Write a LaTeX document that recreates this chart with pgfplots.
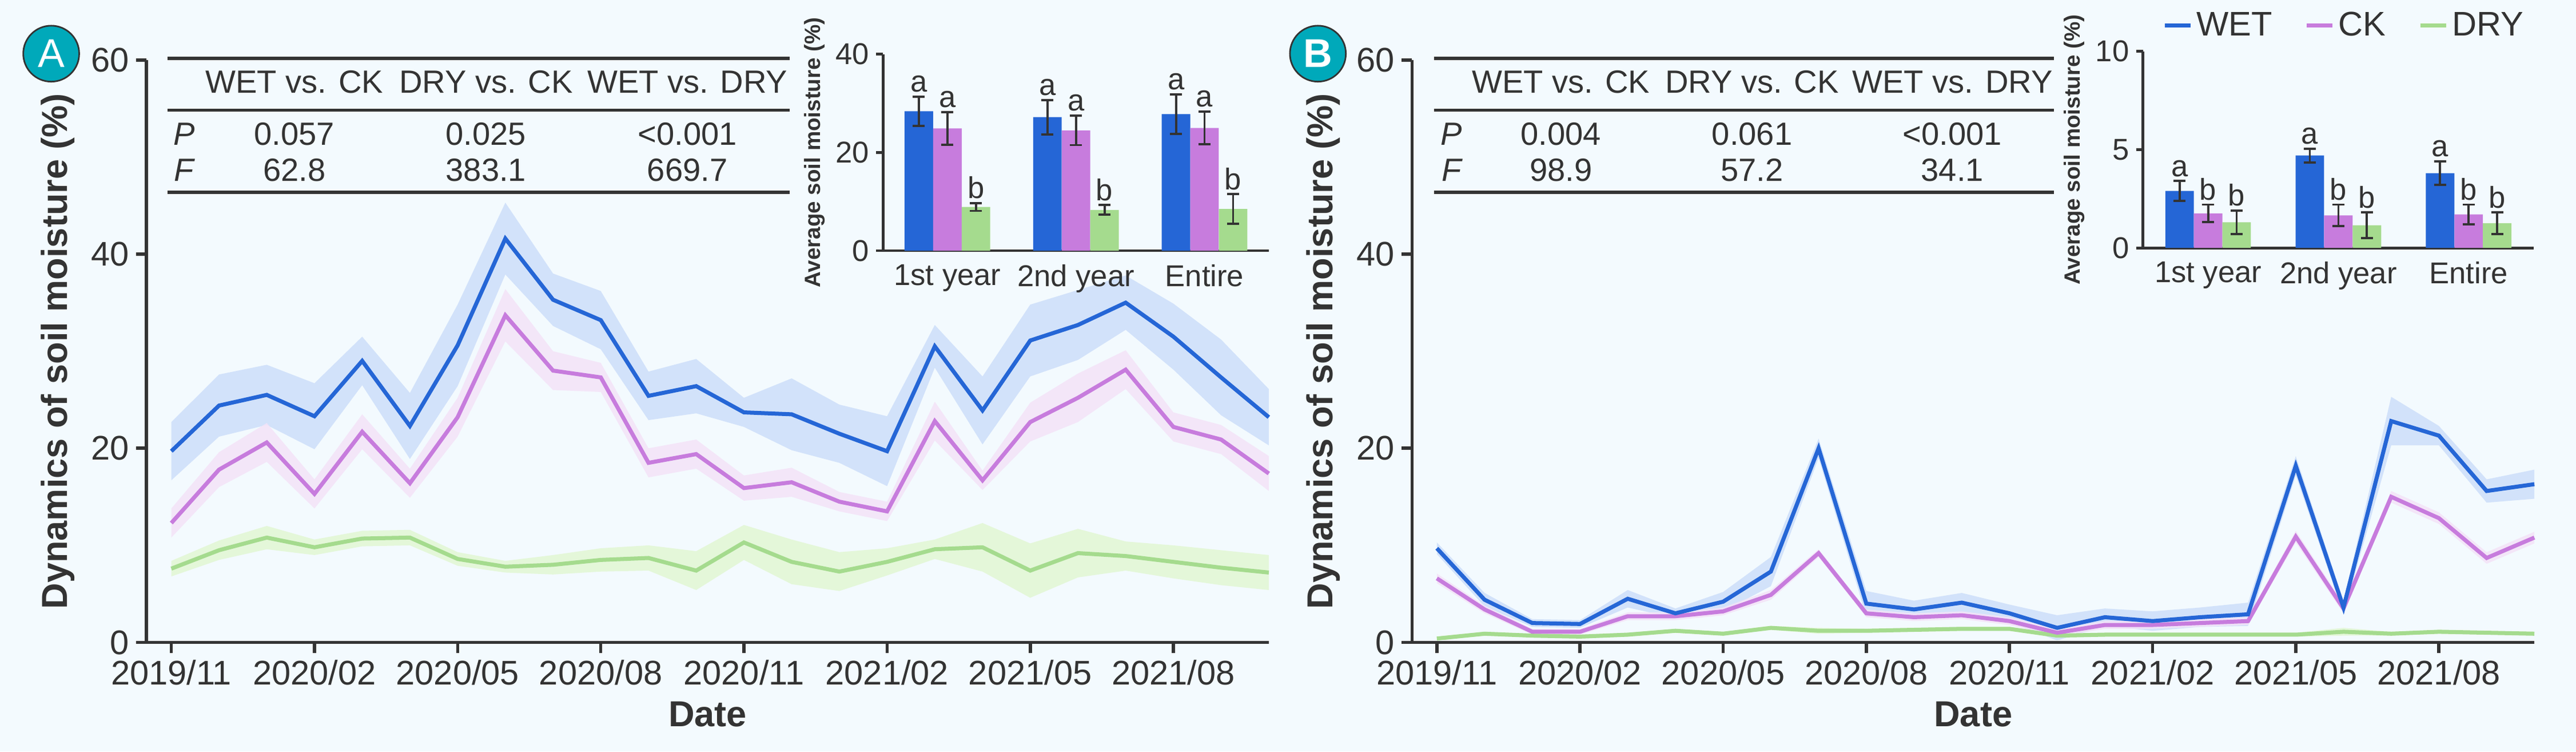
\documentclass[border=0pt]{standalone}
\usepackage{pgfplots}
\pgfplotsset{compat=1.18}
\usepgfplotslibrary{fillbetween}
\usepackage{pgfplotstable}
\usepackage{fontspec}
\setmainfont{Liberation Sans}
\definecolor{bg}{HTML}{F3FAFE}
\definecolor{cwet}{HTML}{2566D6}
\definecolor{bwet}{HTML}{D2E2FA}
\definecolor{cck}{HTML}{C77CDD}
\definecolor{bck}{HTML}{F3E3F8}
\definecolor{cdry}{HTML}{A5DB8E}
\definecolor{bdry}{HTML}{E4F7D9}
\definecolor{axc}{HTML}{333333}
\definecolor{teal}{HTML}{00A9BA}

\pgfplotstableread{
x wm we cm ce dm de
0 19.7 3.0 12.3 1.5 7.6 0.8
1 24.4 3.2 17.8 1.8 9.5 1.0
2 25.5 3.1 20.6 2.0 10.8 1.2
3 23.3 3.4 15.3 1.5 9.8 0.8
4 29.0 2.5 21.7 1.8 10.7 0.8
5 22.3 3.4 16.4 1.5 10.8 0.8
6 30.6 4.2 23.2 2.0 8.6 0.7
7 41.6 3.7 33.7 2.7 7.8 0.6
8 35.3 2.7 28.0 2.0 8.0 1.0
9 33.2 3.0 27.3 1.5 8.5 1.2
10 25.4 2.5 18.5 1.5 8.7 1.3
11 26.4 2.8 19.4 1.5 7.4 2.0
12 23.7 1.5 15.9 1.3 10.3 1.8
13 23.5 3.7 16.5 1.5 8.3 2.3
14 21.5 3.0 14.5 1.0 7.3 2.0
15 19.7 3.6 13.5 1.0 8.3 1.4
16 30.5 2.2 22.8 2.0 9.6 1.0
17 23.9 3.5 16.7 1.0 9.8 2.5
18 31.1 3.7 22.7 2.0 7.4 2.8
19 32.7 3.6 25.2 2.5 9.2 2.5
20 35.0 2.8 28.1 2.0 8.9 1.5
21 31.5 3.4 22.2 1.5 8.3 1.7
22 27.3 3.9 20.9 1.5 7.7 1.8
23 23.2 2.9 17.4 1.8 7.2 1.8
}\dataA
\pgfplotstableread{
x wm we cm ce dm de
0 9.7 0.6 6.6 0.5 0.4 0.2
1 4.4 0.7 3.4 0.4 0.9 0.2
2 2.0 0.4 1.1 0.3 0.7 0.2
3 1.9 0.4 1.1 0.3 0.6 0.2
4 4.5 0.9 2.7 0.4 0.8 0.2
5 3.0 0.5 2.7 0.4 1.2 0.2
6 4.2 1.0 3.2 0.4 0.9 0.2
7 7.3 1.5 4.9 0.5 1.5 0.2
8 20.0 1.0 9.2 0.4 1.2 0.3
9 4.0 1.3 3.0 0.4 1.2 0.2
10 3.4 0.9 2.6 0.4 1.3 0.2
11 4.1 1.0 2.8 0.4 1.4 0.2
12 3.0 0.9 2.2 0.4 1.4 0.2
13 1.5 1.3 1.0 0.4 0.7 0.2
14 2.6 0.9 1.8 0.4 0.8 0.2
15 2.2 1.0 1.8 0.4 0.8 0.2
16 2.6 1.0 2.0 0.4 0.8 0.2
17 2.9 1.2 2.2 0.4 0.8 0.2
18 18.2 1.0 10.9 0.6 0.8 0.2
19 3.6 0.7 3.5 0.5 1.1 0.4
20 22.8 2.5 15.0 0.6 0.9 0.2
21 21.3 1.0 12.8 0.6 1.1 0.2
22 15.6 1.2 8.7 0.6 1.0 0.2
23 16.3 1.5 10.8 0.6 0.9 0.2
}\dataB

\pgfplotsset{
  main/.style={
    anchor=south west, scale only axis,
    width=19.67cm, height=10.20cm,
    xmin=-0.52, xmax=23, ymin=0, ymax=60,
    axis lines=left, axis line style={-, line width=1.6pt, color=axc},
    tick style={line width=1.6pt, color=axc}, tick align=outside,
    major tick length=0.18cm,
    xtick={0,3,...,21},
    xticklabels={2019/11,2020/02,2020/05,2020/08,2020/11,2021/02,2021/05,2021/08},
    ytick={0,20,40,60},
    tick label style={font=\fontsize{17}{20}\selectfont, color=axc},
    /pgf/number format/assume math mode=true,
    xlabel={Date}, ylabel={Dynamics of soil moisture (\%)},
    label style={font=\fontsize{18}{21}\selectfont\bfseries, color=axc},
    xlabel style={yshift=-0.05cm},
    ylabel style={yshift=0.05cm},
    clip=false,
  },
  ins/.style={
    anchor=south west, scale only axis,
    height=3.44cm, xmin=-0.5, xmax=2.5, ymin=0,
    axis lines=left, axis line style={-, line width=1.4pt, color=axc},
    tick style={line width=1.4pt, color=axc}, tick align=outside,
    major tick length=0.12cm,
    xtick={0,1,2}, xticklabels={1st year,2nd year,Entire},
    x tick style={draw=none},
    extra x ticks={0.5,1.5}, extra x tick labels={},
    extra x tick style={tick style={draw=axc}},
    tick label style={font=\fontsize{15}{18}\selectfont, color=axc},
    /pgf/number format/assume math mode=true,
    ylabel={Average soil moisture (\%)},
    ylabel style={font=\fontsize{11}{13}\selectfont\bfseries, color=axc, yshift=-0.05cm},
    clip=false,
  },
  br/.style={ybar, bar width=0.5cm, bar shift=0pt, draw=none, fill=#1,
    error bars/.cd, y dir=both, y explicit, error bar style={line width=1.1pt, color=axc}, error mark options={rotate=90, mark size=3pt, line width=1.1pt, axc}},
  lab/.style={only marks, mark=none, nodes near coords, point meta=explicit symbolic,
    every node near coord/.style={anchor=south, font=\fontsize{15}{18}\selectfont, color=axc, inner sep=2pt}},
}

\begin{document}
\pagecolor{bg}
\begin{tikzpicture}[x=1cm,y=1cm]
\path (0,0) rectangle (45.05,13.16);

% ---------- Panel A ----------
\begin{axis}[main, at={(2.47cm,1.91cm)}]
\addplot[name path=wu, draw=none, forget plot] table[x=x, y expr=\thisrow{wm}+\thisrow{we}] {\dataA};
\addplot[name path=wl, draw=none, forget plot] table[x=x, y expr=\thisrow{wm}-\thisrow{we}] {\dataA};
\addplot[bwet] fill between[of=wu and wl];
\addplot[name path=cu, draw=none, forget plot] table[x=x, y expr=\thisrow{cm}+\thisrow{ce}] {\dataA};
\addplot[name path=cl, draw=none, forget plot] table[x=x, y expr=\thisrow{cm}-\thisrow{ce}] {\dataA};
\addplot[bck, opacity=0.85] fill between[of=cu and cl];
\addplot[name path=du, draw=none, forget plot] table[x=x, y expr=\thisrow{dm}+\thisrow{de}] {\dataA};
\addplot[name path=dl, draw=none, forget plot] table[x=x, y expr=\thisrow{dm}-\thisrow{de}] {\dataA};
\addplot[bdry] fill between[of=du and dl];
\addplot[cwet, line width=2pt] table[x=x, y=wm] {\dataA};
\addplot[cck, line width=2pt] table[x=x, y=cm] {\dataA};
\addplot[cdry, line width=2pt] table[x=x, y=dm] {\dataA};
\end{axis}

% ---------- Panel B ----------
\begin{axis}[main, at={(24.65cm,1.91cm)}]
\addplot[name path=wu, draw=none, forget plot] table[x=x, y expr=\thisrow{wm}+\thisrow{we}] {\dataB};
\addplot[name path=wl, draw=none, forget plot] table[x=x, y expr=\thisrow{wm}-\thisrow{we}] {\dataB};
\addplot[bwet] fill between[of=wu and wl];
\addplot[name path=cu, draw=none, forget plot] table[x=x, y expr=\thisrow{cm}+\thisrow{ce}] {\dataB};
\addplot[name path=cl, draw=none, forget plot] table[x=x, y expr=\thisrow{cm}-\thisrow{ce}] {\dataB};
\addplot[bck, opacity=0.85] fill between[of=cu and cl];
\addplot[name path=du, draw=none, forget plot] table[x=x, y expr=\thisrow{dm}+\thisrow{de}] {\dataB};
\addplot[name path=dl, draw=none, forget plot] table[x=x, y expr=\thisrow{dm}-\thisrow{de}] {\dataB};
\addplot[bdry] fill between[of=du and dl];
\addplot[cdry, line width=2pt] table[x=x, y=dm] {\dataB};
\addplot[cck, line width=2pt] table[x=x, y=cm] {\dataB};
\addplot[cwet, line width=2pt] table[x=x, y=wm] {\dataB};
\end{axis}

% ---------- Tables ----------
\begin{scope}[font=\fontsize{16}{19}\selectfont, text=axc]
\draw[axc, line width=1.6pt] (2.84,12.14) -- (13.74,12.14);
\draw[axc, line width=1.6pt] (2.84,11.23) -- (13.74,11.23);
\draw[axc, line width=1.6pt] (2.84,9.79) -- (13.74,9.79);
\node at (5.06,11.72) {WET vs. CK};
\node at (8.42,11.72) {DRY vs. CK};
\node at (11.95,11.72) {WET vs. DRY};
\node at (3.13,10.81) {\itshape P};
\node at (5.06,10.81) {0.057};
\node at (8.42,10.81) {0.025};
\node at (11.95,10.81) {<0.001};
\node at (3.13,10.18) {\itshape F};
\node at (5.06,10.18) {62.8};
\node at (8.42,10.18) {383.1};
\node at (11.95,10.18) {669.7};

\draw[axc, line width=1.6pt] (25.04,12.14) -- (35.90,12.14);
\draw[axc, line width=1.6pt] (25.04,11.23) -- (35.90,11.23);
\draw[axc, line width=1.6pt] (25.04,9.79) -- (35.90,9.79);
\node at (27.26,11.72) {WET vs. CK};
\node at (30.61,11.72) {DRY vs. CK};
\node at (34.12,11.72) {WET vs. DRY};
\node at (25.34,10.81) {\itshape P};
\node at (27.26,10.81) {0.004};
\node at (30.61,10.81) {0.061};
\node at (34.12,10.81) {<0.001};
\node at (25.34,10.18) {\itshape F};
\node at (27.26,10.18) {98.9};
\node at (30.61,10.18) {57.2};
\node at (34.12,10.18) {34.1};
\end{scope}

% ---------- Insets ----------
\begin{axis}[ins, at={(15.38cm,8.77cm)}, width=6.76cm, ymax=40, ytick={0,20,40}]
\addplot[br=cwet] coordinates {(-0.222,28.4) +- (0,3.0) (0.778,27.2) +- (0,3.5) (1.778,27.8) +- (0,4.0)};
\addplot[br=cck] coordinates {(0,24.9) +- (0,3.3) (1,24.5) +- (0,3.0) (2,25.0) +- (0,3.3)};
\addplot[br=cdry] coordinates {(0.222,8.9) +- (0,0.8) (1.222,8.3) +- (0,1.0) (2.222,8.5) +- (0,3.0)};
\addplot[lab] coordinates {(-0.222,31.4)[a] (0.778,30.7)[a] (1.778,31.8)[a] (0,28.2)[a] (1,27.5)[a] (2,28.3)[a] (0.222,9.7)[b] (1.222,9.3)[b] (2.222,11.5)[b]};
\end{axis}

\begin{axis}[ins, at={(37.46cm,8.82cm)}, width=6.85cm, ymax=10, ytick={0,5,10},
  legend style={at={(1.0,1.02)}, anchor=south east, draw=none, fill=none,
    font=\fontsize{17}{20}\selectfont, text=axc, legend columns=3,
    /tikz/every even column/.append style={column sep=0.5cm}},
  legend image code/.code={\draw[#1, line width=2pt] (0cm,0cm) -- (0.45cm,0cm);}]
\addlegendimage{cwet}\addlegendentry{WET}
\addlegendimage{cck}\addlegendentry{CK}
\addlegendimage{cdry}\addlegendentry{DRY}
\addplot[forget plot, br=cwet] coordinates {(-0.219,2.9) +- (0,0.5) (0.781,4.7) +- (0,0.35) (1.781,3.8) +- (0,0.6)};
\addplot[forget plot, br=cck] coordinates {(0,1.75) +- (0,0.45) (1,1.65) +- (0,0.55) (2,1.7) +- (0,0.5)};
\addplot[forget plot, br=cdry] coordinates {(0.219,1.3) +- (0,0.6) (1.219,1.15) +- (0,0.65) (2.219,1.25) +- (0,0.55)};
\addplot[forget plot, lab] coordinates {(-0.219,3.4)[a] (0.781,5.05)[a] (1.781,4.4)[a] (0,2.2)[b] (1,2.2)[b] (2,2.2)[b] (0.219,1.9)[b] (1.219,1.8)[b] (2.219,1.8)[b]};
\end{axis}

% ---------- Panel letters ----------
\node[circle, fill=teal, draw=axc, line width=0.8pt, minimum size=0.98cm, inner sep=0pt, text=white, font=\fontsize{20}{22}\selectfont] at (0.80,12.22) {A};
\node[circle, fill=teal, draw=axc, line width=0.8pt, minimum size=0.98cm, inner sep=0pt, text=white, font=\fontsize{20}{22}\selectfont\bfseries] at (23.00,12.22) {B};
\end{tikzpicture}
\end{document}
